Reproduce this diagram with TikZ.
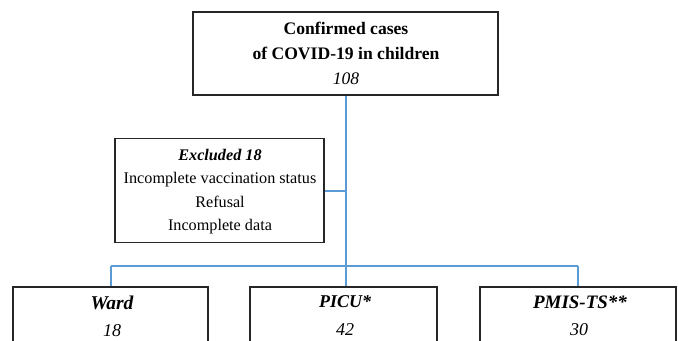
\documentclass[tikz,border=0pt]{standalone}
\usepackage{fontspec}
\setmainfont{Liberation Serif}
\definecolor{linkblue}{RGB}{91,155,213}
\begin{document}
\begin{tikzpicture}[x=1pt,y=-1pt,
  box/.style={draw=black!85,line width=1.3pt,fill=white,rectangle,inner sep=0pt},
  link/.style={draw=linkblue,line width=2pt},
  txt/.style={inner sep=0pt,align=center}]
\useasboundingbox (0,0) rectangle (679,340);
\clip (0,0) rectangle (679,340);
% top box
\node[box,minimum width=305pt,minimum height=83pt] (top) at (345.5,53.5) {};
\node[txt,font=\fontsize{17.6}{25}\selectfont] (toptext) at (346,53)
  {\textbf{Confirmed cases}\\
   \textbf{of COVID-19 in children}\\
   \textit{108}};
% excluded box
\node[box,minimum width=209pt,minimum height=104pt] (excl) at (219.5,190.5) {};
\node[txt,font=\fontsize{16.2}{23.4}\selectfont] (excltext) at (220,191.5)
  {\textbf{\textit{Excluded 18}}\\
   Incomplete vaccination status\\
   Refusal\\
   Incomplete data};
% bottom boxes
\node[box,minimum width=195pt,minimum height=80pt] (ward) at (110.5,327) {};
\node[box,minimum width=187pt,minimum height=80pt] (picu) at (343.5,327) {};
\node[box,minimum width=196pt,minimum height=80pt] (pmis) at (578,327) {};
\node[txt,font=\fontsize{19.5}{20}\selectfont\bfseries\itshape] (wardt) at (112,303) {Ward};
\node[txt,font=\fontsize{18}{18}\selectfont\itshape] (wardn) at (112,331) {18};
\node[txt,font=\fontsize{18}{20}\selectfont\bfseries\itshape] (picut) at (345,302) {PICU*};
\node[txt,font=\fontsize{18}{18}\selectfont\itshape] (picun) at (345,330) {42};
\node[txt,font=\fontsize{19}{20}\selectfont\bfseries\itshape] (pmist) at (580,302) {PMIS-TS**};
\node[txt,font=\fontsize{18}{18}\selectfont\itshape] (pmisn) at (579,330) {30};
% connectors
\coordinate (junc) at (346,266);
\coordinate (exj) at (346,190.5);
\coordinate (wj) at (111,266);
\coordinate (pj) at (578,266);
\draw[link] (top.south -| junc) -- (junc);
\draw[link] (excl.east) -- (exj);
\draw[link] (wj) -- (pj);
\draw[link] (wj) -- (wj |- ward.north);
\draw[link] (junc) -- (junc |- picu.north);
\draw[link] (pj) -- (pj |- pmis.north);
\end{tikzpicture}
\end{document}
